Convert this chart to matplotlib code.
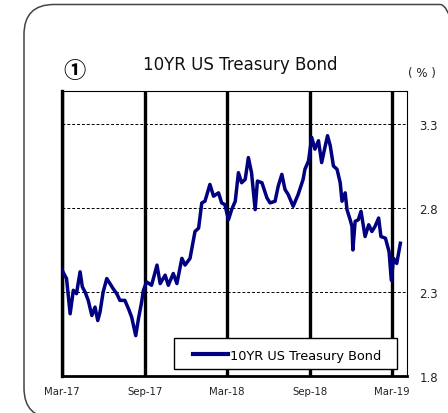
import matplotlib
matplotlib.use("Agg")
import matplotlib.pyplot as plt
from matplotlib.patches import FancyBboxPatch, Rectangle
from matplotlib.transforms import IdentityTransform
import pandas as pd

title = "10YR US Treasury Bond"
series_name = "10YR US Treasury Bond"
unit_label = "( % )"
panel_mark = "①"

dates = [
    "2017-03-01", "2017-03-11", "2017-03-19", "2017-03-26", "2017-04-02", "2017-04-10",
    "2017-04-15", "2017-04-21", "2017-04-28", "2017-05-06", "2017-05-13", "2017-05-19",
    "2017-05-24", "2017-05-31", "2017-06-08", "2017-06-15", "2017-06-22", "2017-06-30",
    "2017-07-07", "2017-07-18", "2017-07-26", "2017-08-02", "2017-08-11", "2017-08-17",
    "2017-08-24", "2017-08-28", "2017-09-04", "2017-09-15", "2017-09-27", "2017-10-04",
    "2017-10-15", "2017-10-22", "2017-11-02", "2017-11-10", "2017-11-21", "2017-11-28",
    "2017-12-09", "2017-12-20", "2017-12-28", "2018-01-04", "2018-01-11", "2018-01-22",
    "2018-01-30", "2018-02-10", "2018-02-17", "2018-02-24", "2018-03-04", "2018-03-11",
    "2018-03-19", "2018-03-26", "2018-04-02", "2018-04-10", "2018-04-17", "2018-04-24",
    "2018-05-02", "2018-05-07", "2018-05-17", "2018-05-28", "2018-06-04", "2018-06-15",
    "2018-06-22", "2018-06-30", "2018-07-07", "2018-07-14", "2018-07-25", "2018-08-05",
    "2018-08-16", "2018-08-20", "2018-08-28", "2018-09-04", "2018-09-11", "2018-09-19",
    "2018-09-26", "2018-10-04", "2018-10-09", "2018-10-15", "2018-10-22", "2018-10-30",
    "2018-11-06", "2018-11-10", "2018-11-17", "2018-11-21", "2018-11-28", "2018-12-02",
    "2018-12-04", "2018-12-09", "2018-12-16", "2018-12-22", "2018-12-31", "2019-01-08",
    "2019-01-15", "2019-01-22", "2019-01-30", "2019-02-04", "2019-02-14", "2019-02-22",
    "2019-02-27", "2019-03-04", "2019-03-11", "2019-03-19",
]
yields = [
    2.43, 2.38, 2.17, 2.31, 2.29, 2.42,
    2.33, 2.30, 2.25, 2.16, 2.21, 2.13,
    2.18, 2.30, 2.38, 2.35, 2.32, 2.29,
    2.25, 2.25, 2.20, 2.15, 2.04, 2.14,
    2.24, 2.31, 2.36, 2.34, 2.46, 2.35,
    2.40, 2.34, 2.41, 2.35, 2.50, 2.46,
    2.50, 2.66, 2.68, 2.83, 2.84, 2.94,
    2.87, 2.89, 2.83, 2.82, 2.73, 2.79,
    2.84, 3.01, 2.95, 2.97, 3.10, 3.01,
    2.79, 2.96, 2.95, 2.86, 2.83, 2.84,
    2.93, 3.00, 2.91, 2.88, 2.81, 2.88,
    2.97, 3.03, 3.08, 3.22, 3.15, 3.20,
    3.07, 3.17, 3.23, 3.17, 3.05, 3.03,
    2.95, 2.84, 2.89, 2.79, 2.73, 2.69,
    2.55, 2.72, 2.73, 2.78, 2.63, 2.70,
    2.66, 2.69, 2.74, 2.63, 2.62, 2.54,
    2.37, 2.50, 2.47, 2.59,
]
tick_dates = ["2017-03-01", "2017-09-01", "2018-03-01", "2018-09-01", "2019-03-01"]
tick_labels = ["Mar‐17", "Sep‐17", "Mar‐18", "Sep‐18", "Mar‐19"]
y_ticks = [1.8, 2.3, 2.8, 3.3]

x = pd.to_datetime(dates)
xt = pd.to_datetime(tick_dates)

plt.rcParams['font.family'] = ['DejaVu Sans', 'Noto Sans CJK JP']

fig = plt.figure(figsize=(4.48, 4.14), dpi=100)
fig.patch.set_facecolor("white")

frame = FancyBboxPatch((24, -5), 446, 414 - 5.5 + 5,
                       boxstyle="round,pad=0,rounding_size=30",
                       transform=IdentityTransform(), facecolor="none",
                       edgecolor="#444444", linewidth=1.1)
fig.add_artist(frame)

ax = fig.add_axes([62 / 448, 1 - 377 / 414, (406.7 - 62) / 448, (377 - 92) / 414])

for d in xt:
    ax.axvline(d, color="black", lw=2.4, zorder=2)

ax.plot(x, yields, color="#000080", lw=2.5, zorder=3, label=series_name,
        solid_joinstyle="round")

ax.set_xlim(pd.Timestamp("2017-03-01"), pd.Timestamp("2019-04-02"))
ax.set_ylim(1.8, 3.496)
ax.set_xticks(xt)
ax.set_xticklabels(tick_labels)
ax.set_yticks(y_ticks)
ax.set_yticklabels([f"{v:.1f}" for v in y_ticks])
ax.yaxis.tick_right()
ax.tick_params(axis="y", length=0, pad=9, labelsize=8.5, labelcolor="#222222")
ax.tick_params(axis="x", length=0, pad=7, labelsize=7.3, labelcolor="#222222")
ax.yaxis.grid(True, linestyle=(0, (3, 2)), color="black", lw=0.7, zorder=1)
ax.set_axisbelow(True)

for s in ["top", "right"]:
    ax.spines[s].set_linewidth(0.8)
ax.spines["bottom"].set_linewidth(2.0)
ax.spines["left"].set_linewidth(2.4)

# legend box frame
box = Rectangle(((174 - 62) / 344.7, (377 - 370) / 285),
                (397 - 174) / 344.7, (370 - 339) / 285,
                transform=ax.transAxes, facecolor="white", edgecolor="black",
                lw=1.0, zorder=4)
ax.add_patch(box)

leg = ax.legend(loc="center", bbox_to_anchor=((287.5 - 62) / 344.7, (377 - 356.5) / 285),
                fontsize=9.3, handlelength=2.7, handletextpad=0.15, borderpad=0.2,
                borderaxespad=0, frameon=False)
leg.set_zorder(5)
for h in leg.get_lines():
    h.set_linewidth(3.0)

fig.text(240 / 448, 1 - 65 / 414, title, ha="center", va="center", fontsize=12,
         color="#111111")
fig.text(74 / 448, 1 - 72 / 414, panel_mark, ha="center", va="center", fontsize=16,
         fontweight="bold", family=["Noto Sans CJK JP", "DejaVu Sans"])
fig.text(422 / 448, 1 - 73 / 414, unit_label, ha="center", va="center", fontsize=8.5,
         color="#222222")

fig.savefig("out.png", dpi=100, facecolor="white")
